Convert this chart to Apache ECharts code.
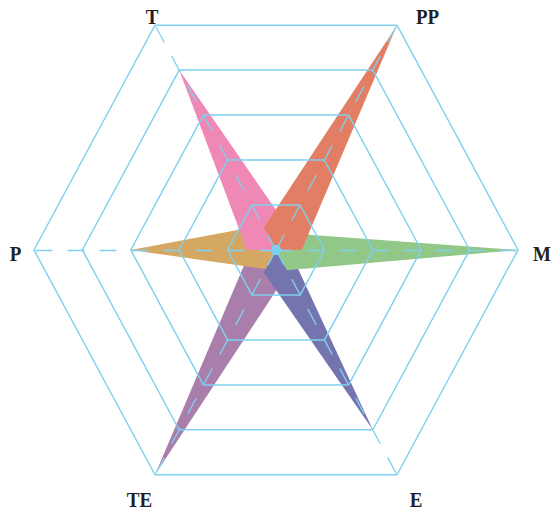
<!DOCTYPE html>
<html>
<head>
<meta charset="utf-8">
<script src="https://cdn.jsdelivr.net/npm/echarts@6/dist/echarts.min.js"></script>
<style>
  html, body { margin: 0; padding: 0; background: #ffffff; overflow: hidden; }
  #wrap { width: 555px; height: 515px; overflow: hidden; }
  /* the radar is drawn slightly taller than wide */
  #chart { width: 555px; height: 480px; transform: scaleY(1.0729); transform-origin: 0 0; }
</style>
</head>
<body>
<div id="wrap"><div id="chart"></div></div>
<script>
// Axes, counter-clockwise from the upper-right corner
const indicatorNames = ['PP', 'T', 'P', 'TE', 'E', 'M'];
const indicatorMax = 1;

// One spike per axis: [PP, T, P, TE, E, M]
const spikeTE = [0, 0, 0.105, 1.0, 0.1, 0];
const spikeE  = [0, 0, 0, 0.1, 0.8, 0.055];
const spikeM  = [0.075, 0, 0, 0, 0.09, 1.0];
const spikeP  = [0, 0.11, 0.6, 0.085, 0, 0];
const spikeT  = [0.1, 0.8, 0.12, 0, 0, 0];
const spikePP = [1.0, 0.1, 0, 0, 0, 0.106];
const hub     = [0, 0, 0, 0, 0, 0];

const spikes = [
  { name: 'TE', values: spikeTE, color: '#a97eaa' },
  { name: 'E',  values: spikeE,  color: '#7474ae' },
  { name: 'M',  values: spikeM,  color: '#91c888' },
  { name: 'P',  values: spikeP,  color: '#d4a863' },
  { name: 'T',  values: spikeT,  color: '#f088b6' },
  { name: 'PP', values: spikePP, color: '#e27e63' }
];

const gridColor = '#7fd0f0';
const labelFont = { fontFamily: 'Liberation Serif', fontWeight: 'bold', fontSize: 19, color: '#231f20' };

// per-label nudge [dx, dy] around the axis end
const nameNudge = { T: [3, 2.6], PP: [24.6, 2.6], P: [-6.5, 3.7], TE: [-9.5, 12.7], E: [13, 12.7], M: [12, 3.7] };
const rich = {};
indicatorNames.forEach((n, i) => {
  const [dx, dy] = nameNudge[n];
  rich['n' + i] = Object.assign({}, labelFont, {
    padding: [dy > 0 ? 2 * dy : 0, dx < 0 ? -2 * dx : 0, dy < 0 ? -2 * dy : 0, dx > 0 ? 2 * dx : 0]
  });
});

const chart = echarts.init(document.getElementById('chart'), null, { renderer: 'svg' });

const series = spikes.map(s => ({
  type: 'radar',
  name: s.name,
  z: 2,
  symbol: 'none',
  silent: true,
  data: [{ value: s.values }],
  lineStyle: { width: 0, opacity: 0 },
  areaStyle: { color: s.color, opacity: 1 },
  itemStyle: { color: s.color }
}));
series.push({
  type: 'radar',
  name: 'hub',
  z: 5,
  symbol: 'circle',
  symbolSize: 9,
  silent: true,
  data: [{ value: hub }],
  lineStyle: { width: 0, opacity: 0 },
  itemStyle: { color: gridColor, borderWidth: 0 }
});

chart.setOption({
  animation: false,
  backgroundColor: '#ffffff',
  radar: {
    z: 3,
    center: [276, 233],
    radius: 242,
    startAngle: 60,
    shape: 'polygon',
    splitNumber: 5,
    indicator: indicatorNames.map(n => ({ name: n, min: 0, max: indicatorMax })),
    axisNameGap: 12,
    axisName: Object.assign({}, labelFont, {
      align: 'center',
      verticalAlign: 'middle',
      formatter: (name) => '{n' + indicatorNames.indexOf(name) + '|' + name + '}',
      rich: rich
    }),
    splitLine: { lineStyle: { color: gridColor, width: 1.4 } },
    splitArea: { show: false },
    axisLine: { lineStyle: { color: gridColor, width: 1.3, type: [16, 16] } },
    axisTick: { show: false },
    axisLabel: { show: false }
  },
  series: series
});
</script>
</body>
</html>
